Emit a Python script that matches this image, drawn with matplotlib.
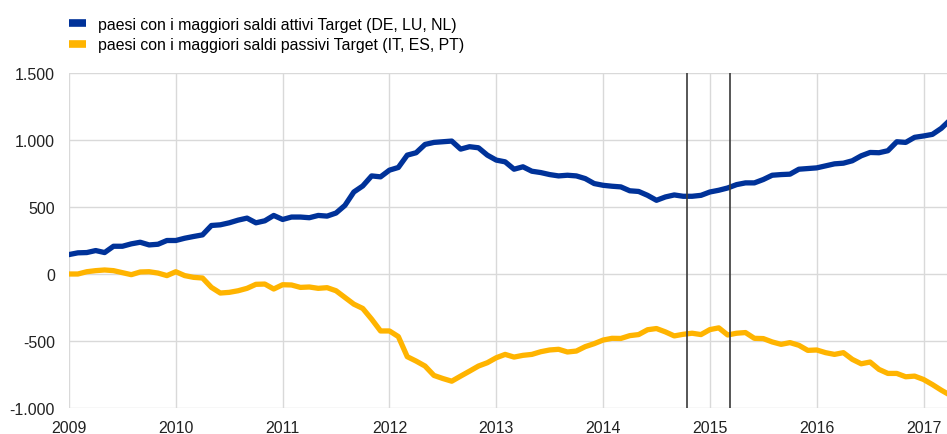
import numpy as np
import matplotlib
matplotlib.use("Agg")
import matplotlib.pyplot as plt
from matplotlib.ticker import FuncFormatter

# monthly data, Jan 2009 - Apr 2017 (EUR bn)
start_year = 2009
attivi = [145, 158, 160, 175, 160, 207, 207, 225, 237, 217, 222, 250,
          250, 267, 280, 292, 362, 367, 382, 402, 417, 382, 397, 437,
          407, 425, 425, 420, 437, 432, 455, 512, 612, 657, 732, 725,
          775, 795, 887, 905, 967, 982, 987, 992, 932, 950, 942, 887,
          850, 837, 782, 800, 767, 757, 742, 732, 737, 732, 712, 675,
          662, 655, 650, 621, 616, 587, 550, 575, 590, 580, 580, 587,
          612, 625, 642, 667, 680, 680, 705, 737, 742, 745, 782, 787,
          792, 807, 822, 827, 845, 882, 907, 905, 920, 987, 982, 1020,
          1030, 1042, 1087, 1150]
passivi = [0, 0, 17, 25, 30, 25, 10, -5, 15, 17, 7, -12,
           17, -12, -25, -30, -100, -142, -137, -125, -107, -77, -75, -112,
           -80, -82, -100, -97, -107, -102, -125, -175, -225, -257, -337, -425,
           -425, -467, -617, -650, -687, -757, -780, -800, -762, -725, -687, -662,
           -625, -600, -620, -607, -600, -580, -567, -562, -582, -575, -542, -520,
           -493, -480, -481, -460, -452, -416, -407, -432, -462, -450, -442, -452,
           -415, -402, -455, -442, -437, -480, -482, -507, -525, -512, -532, -570,
           -567, -587, -600, -587, -637, -670, -657, -712, -742, -742, -767, -762,
           -787, -825, -867, -905]
labels = ["paesi con i maggiori saldi attivi Target (DE, LU, NL)",
          "paesi con i maggiori saldi passivi Target (IT, ES, PT)"]
events = [2014 + 9.4 / 12, 2015 + 2.3 / 12]
years = list(range(2009, 2018))

x = start_year + np.arange(len(attivi)) / 12.0

plt.rcParams['font.family'] = ['Liberation Sans', 'DejaVu Sans']

fig = plt.figure(figsize=(9.47, 4.35), dpi=100)
ax = fig.add_axes([69 / 947, 1 - 409 / 435, 1 - 69 / 947, (409 - 74) / 435])

l1, = ax.plot(x, attivi, color="#003299", lw=3.8, solid_joinstyle="round", zorder=3)
l2, = ax.plot(x, passivi, color="#FFB400", lw=3.8, solid_joinstyle="round", zorder=3)

for ev in events:
    ax.axvline(ev, color="#3a3a3a", lw=1.2, zorder=4)

ax.set_xlim(2009, 2017.22)
ax.set_ylim(-1000, 1500)
ax.set_xticks(years)
ax.set_yticks(np.arange(-1000, 1501, 500))
ax.yaxis.set_major_formatter(FuncFormatter(lambda v, p: f"{int(v):,}".replace(",", ".")))

ax.grid(True, color="#d9d9d9", lw=1, zorder=0)
for s in ax.spines.values():
    s.set_visible(False)
ax.tick_params(length=0, labelsize=11.5, colors="#222222")
ax.tick_params(axis="x", pad=8.5)
ax.tick_params(axis="y", pad=10)

fig.legend([l1, l2], labels, loc="upper left", bbox_to_anchor=(69 / 947, 1 - 18 / 435),
           frameon=False, fontsize=11.4, handlelength=1.1, handletextpad=0.7,
           labelspacing=0.32, borderaxespad=0, borderpad=0)
for h in fig.legends[0].legend_handles:
    h.set_linewidth(5.5)
    h.set_solid_capstyle("butt")

fig.savefig("out.png", dpi=100)
